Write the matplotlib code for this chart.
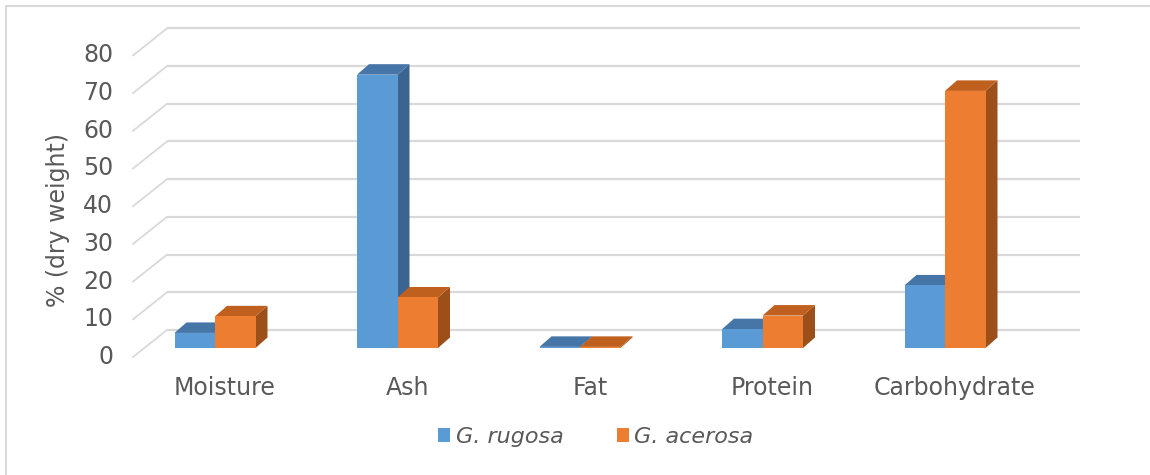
import matplotlib
matplotlib.use("Agg")
import matplotlib.pyplot as plt
from matplotlib.patches import Polygon, Patch, Rectangle
from matplotlib.lines import Line2D

categories = ["Moisture", "Ash", "Fat", "Protein", "Carbohydrate"]
series_names = ["G. rugosa", "G. acerosa"]
rugosa = [4.0, 72.5, 0.3, 5.0, 16.6]
acerosa = [8.4, 13.4, 0.3, 8.6, 68.2]
yticks = [0, 10, 20, 30, 40, 50, 60, 70, 80]

front_colors = ["#5B9BD5", "#ED7D31"]
top_colors = ["#4676A8", "#C0601E"]
side_colors = ["#3A6590", "#9C4F19"]
text_color = "#595959"
grid_color = "#D9D9D9"

# pixel scale of the drawing: one category = 182.5 px, 10 units = 37.7 px
PX_X = 182.5
PX_Y = 3.77
W, H = 1150, 475
x_org, y_org = 204, 357  # front-plane origin in pixels

fig = plt.figure(figsize=(W / 100, H / 100), dpi=100)
ax = fig.add_axes([0, 0, 1, 1])
ax.set_xlim(-x_org / PX_X, (W - x_org) / PX_X)
ax.set_ylim(-(H - y_org) / PX_Y, y_org / PX_Y)
ax.axis("off")

# depth vector of the floor (front -> back wall)
dep_x, dep_y = 34 / PX_X, 27 / PX_Y
# bar depth and the depth at which the bars stand
bar_dx, bar_dy = 12 / PX_X, 10.5 / PX_Y
bar_off_x, bar_off_y = 11 / PX_X, 9 / PX_Y
bar_w = 40.5 / PX_X

# gridlines: slanted side-wall piece + back-wall line
x_left = (133 - x_org) / PX_X
x_right = (1080 - x_org) / PX_X
for v in yticks:
    ax.plot([x_left, x_left + dep_x], [v, v + dep_y],
            color=grid_color, lw=1.3, zorder=1)
    ax.plot([x_left + dep_x, x_right], [v + dep_y, v + dep_y],
            color=grid_color, lw=1.6, solid_capstyle="butt", zorder=1)
    ax.text(x_left - 20 / PX_X, v, str(v), ha="right", va="center",
            fontsize=17, color=text_color)


def draw_bar(x0, h, k):
    x1 = x0 + bar_w
    y0 = bar_off_y
    y1 = bar_off_y + h
    top = [(x0, y1), (x1, y1), (x1 + bar_dx, y1 + bar_dy), (x0 + bar_dx, y1 + bar_dy)]
    side = [(x1, y0), (x1 + bar_dx, y0 + bar_dy), (x1 + bar_dx, y1 + bar_dy), (x1, y1)]
    ax.add_patch(Polygon(side, closed=True, fc=side_colors[k], ec="none", zorder=3))
    ax.add_patch(Polygon(top, closed=True, fc=top_colors[k], ec="none", zorder=3))
    ax.add_patch(Rectangle((x0, y0), bar_w, h, fc=front_colors[k], ec="none", zorder=3))


for i, cat in enumerate(categories):
    cx = i + bar_off_x
    for k, vals in enumerate([rugosa, acerosa]):
        draw_bar(cx - bar_w + k * bar_w, vals[i], k)
    ax.text(i + 21 / PX_X, -(388 - y_org) / PX_Y, cat, ha="center", va="center",
            fontsize=17, color=text_color)

ax.text((58 - x_org) / PX_X, (y_org - 220) / PX_Y, "% (dry weight)", rotation=90,
        ha="center", va="center", fontsize=17, color=text_color)

handles = [Patch(fc=c, ec="none") for c in front_colors]
leg = ax.legend(handles, series_names, loc="center", bbox_to_anchor=(0.518, 0.08),
                ncol=2, frameon=False, handlelength=0.55, handleheight=0.55,
                handletextpad=0.25, columnspacing=2.4,
                prop={"style": "italic", "size": 16})
for t in leg.get_texts():
    t.set_color(text_color)

# chart-area border (only left and top edges fall inside the image)
bx, by = 5.5 / W, 1 - 6 / H
fig.add_artist(Line2D([bx, bx, 1], [0, by, by], transform=fig.transFigure,
                      color="#D9D9D9", lw=1.5))

fig.savefig("out.png", dpi=100)
